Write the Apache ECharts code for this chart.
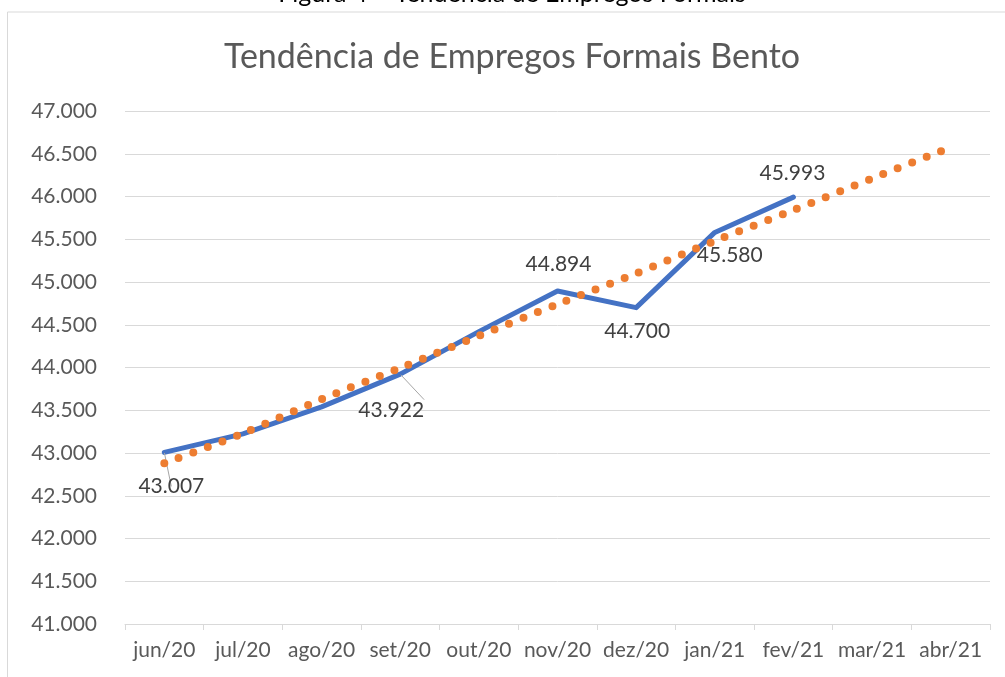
<!DOCTYPE html>
<html>
<head>
<meta charset="utf-8">
<title>Tendência de Empregos Formais Bento</title>
<script src="https://cdn.jsdelivr.net/npm/echarts@6/dist/echarts.min.js"></script>
<style>
  html, body { margin: 0; padding: 0; background: #fff; }
  #chart { width: 1005px; height: 677px; }
</style>
</head>
<body>
<div id="chart"></div>
<script>
// dados
const meses = ["jun/20", "jul/20", "ago/20", "set/20", "out/20", "nov/20", "dez/20", "jan/21", "fev/21", "mar/21", "abr/21"];
const empregos = [43007, 43224, 43540, 43922, 44420, 44894, 44700, 45580, 45993, null, null];
const tendencia = [42880, 43230, 43630, 43995, 44370, 44740, 45100, 45480, 45840, 46210, 46575];
// rótulos: posição e deslocamento de cada valor exibido
const rotulos = {
  0: { position: "bottom", offset: [7, 18], guia: true },
  3: { position: "bottom", offset: [-9, 20], guia: true },
  5: { position: "top", offset: [1, -11] },
  6: { position: "bottom", offset: [1, 8] },
  7: { position: "bottom", offset: [15, 7] },
  8: { position: "top", offset: [-1, -8] },
};

const fonte = "Lato, 'Open Sans', sans-serif";
const milhar = (v) => String(v).replace(/\B(?=(\d{3})+(?!\d))/g, ".");

const chart = echarts.init(document.getElementById("chart"));

const dadosLinha = empregos.map((v, i) => {
  const r = rotulos[i];
  if (!r) return { value: v, label: { show: false } };
  return {
    value: v,
    label: {
      show: true,
      position: r.position,
      offset: r.offset,
    },
    labelLine: { show: !!r.guia, lineStyle: { color: "#a6a6a6", width: 1 } },
  };
});

const option = {
  animation: false,
  backgroundColor: "#fff",
  graphic: [
    {
      type: "rect",
      shape: { x: 7.5, y: 12, width: 1200, height: 900 },
      style: { fill: "none", stroke: "#d9d9d9", lineWidth: 1 },
      silent: true,
    },
    {
      type: "text",
      x: 512,
      y: -6,
      style: {
        text: "Figura 4 – Tendência de Empregos Formais",
        fill: "#000",
        font: "25px " + fonte,
        textAlign: "center",
        textVerticalAlign: "middle",
      },
    },
    {
      type: "text",
      x: 512,
      y: 57,
      style: {
        text: "Tendência de Empregos Formais Bento",
        fill: "#595959",
        font: "34px " + fonte,
        textAlign: "center",
        textVerticalAlign: "middle",
      },
    },
  ],
  grid: { left: 125, right: 15, top: 111, bottom: 53 },
  xAxis: {
    type: "category",
    data: meses,
    boundaryGap: true,
    axisLine: { lineStyle: { color: "#d9d9d9", width: 1 } },
    axisTick: { show: true, length: 6, lineStyle: { color: "#d9d9d9" } },
    axisLabel: { color: "#595959", fontSize: 21, fontFamily: fonte, margin: 16, interval: 0 },
  },
  yAxis: {
    type: "value",
    min: 41000,
    max: 47000,
    interval: 500,
    axisLine: { show: false },
    axisTick: { show: false },
    splitLine: { lineStyle: { color: "#d9d9d9", width: 1 } },
    axisLabel: { color: "#595959", fontSize: 21, fontFamily: fonte, margin: 28, formatter: milhar },
  },
  series: [
    {
      name: "Empregos",
      type: "line",
      data: dadosLinha,
      symbol: "circle",
      symbolSize: 1,
      itemStyle: { color: "#4472c4" },
      lineStyle: { color: "#4472c4", width: 5, join: "round", cap: "round" },
      label: {
        color: "#404040",
        fontSize: 21,
        fontFamily: fonte,
        formatter: (p) => milhar(p.value),
      },
      z: 2,
    },
    {
      name: "Tendência",
      type: "line",
      data: tendencia,
      showSymbol: false,
      smooth: 0.3,
      lineStyle: { color: "#ed7d31", width: 8, type: [0, 15.5], cap: "round" },
      z: 3,
    },
  ],
};

chart.setOption(option);
</script>
</body>
</html>
